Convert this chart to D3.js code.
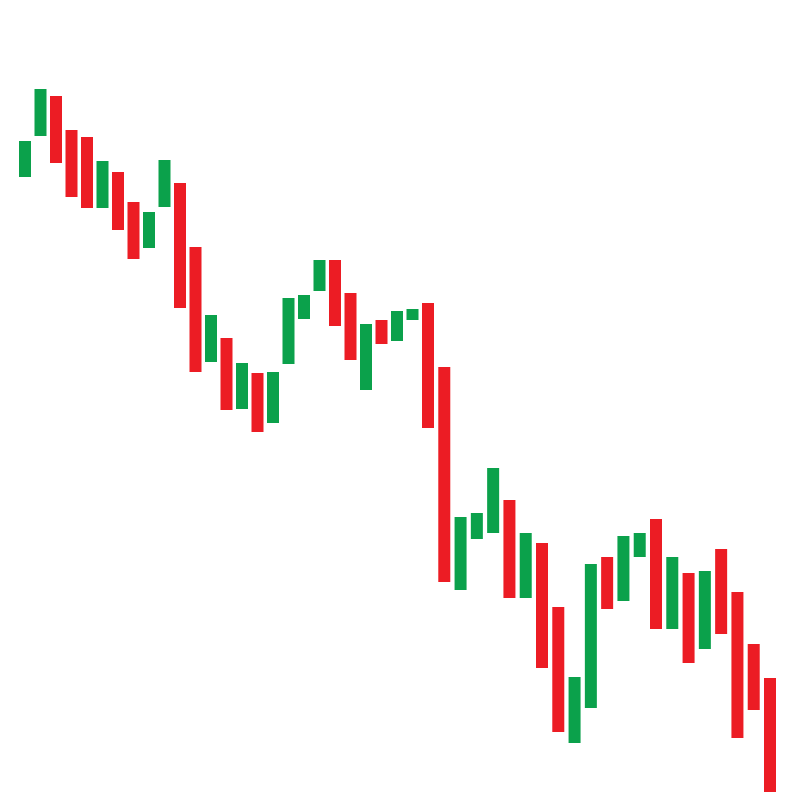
<!DOCTYPE html>
<html>
<head>
<meta charset="utf-8">
<script src="https://cdn.jsdelivr.net/npm/d3@7"></script>
<style>
  html, body { margin: 0; padding: 0; background: #ffffff; }
  svg { display: block; }
</style>
</head>
<body>
<svg id="chart" width="800" height="800"></svg>
<script>
// Candle data (arbitrary price units), one entry per session
const sessions = d3.range(1, 49);
const openValues = [
  62.3, 66.4, 70.4, 67.0, 66.3, 59.2, 62.8, 59.8, 55.2, 59.3,
  61.7, 55.3, 43.8, 46.2, 39.1, 42.7, 37.7, 43.6, 48.1, 50.9,
  54.0, 50.7, 41.0, 48.0, 45.9, 48.0, 49.7, 43.3, 21.0, 26.1,
  26.7, 30.0, 20.2, 25.7, 19.3, 5.7, 9.2, 24.3, 19.9, 24.3,
  28.1, 17.1, 22.7, 15.1, 25.1, 20.8, 15.6, 12.2
];
const closeValues = [
  65.9, 71.1, 63.7, 60.3, 59.2, 63.9, 57.0, 54.1, 58.8, 64.0,
  49.2, 42.8, 48.5, 39.0, 43.7, 36.8, 42.8, 50.2, 50.5, 54.0,
  47.4, 44.0, 47.6, 45.6, 48.9, 49.1, 37.2, 21.8, 28.3, 28.7,
  33.2, 20.2, 26.7, 13.2, 6.8, 12.3, 23.6, 19.1, 26.4, 26.7,
  17.1, 24.3, 13.7, 22.9, 16.6, 6.2, 9.0, 0.8
];

const candles = sessions.map((s, i) => ({ s, open: openValues[i], close: closeValues[i] }));

const svg = d3.select("#chart");
const W = 800, H = 800;
const upColor = "#0ba14b";
const downColor = "#ec1c24";
const bodyWidth = 12;

const x = d3.scaleLinear().domain([1, 27, 48]).range([25, 428, 770]);
const y = d3.scaleLinear().domain([0, 80]).range([800, 0]);

svg.append("rect").attr("width", W).attr("height", H).attr("fill", "#ffffff");

svg.append("g")
  .selectAll("rect")
  .data(candles)
  .join("rect")
  .attr("x", d => x(d.s) - bodyWidth / 2)
  .attr("width", bodyWidth)
  .attr("y", d => y(Math.max(d.open, d.close)))
  .attr("height", d => Math.abs(y(d.open) - y(d.close)))
  .attr("fill", d => d.close >= d.open ? upColor : downColor);
</script>
</body>
</html>
